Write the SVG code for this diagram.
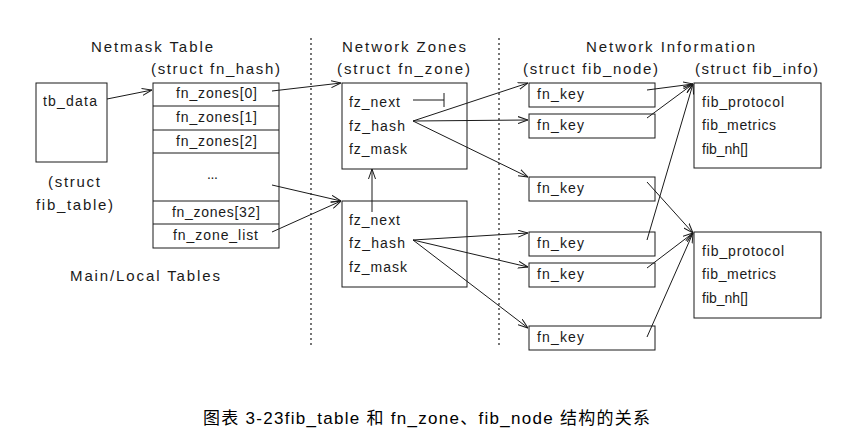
<svg xmlns="http://www.w3.org/2000/svg" width="843" height="439" viewBox="0 0 843 439">
<style>
  text { font-family: "Liberation Sans", Arial, sans-serif; font-size: 14px; fill: #1a1a1a; }
  .hd { font-size: 15px; }
  .cap { font-family: "Liberation Sans", "Noto Sans CJK SC", sans-serif; font-size: 17px; fill: #000; }
  .box { fill: #fff; stroke: #1a1a1a; stroke-width: 1; }
  .ln { fill: none; stroke: #1a1a1a; stroke-width: 1; }
  .arr { fill: none; stroke: #1a1a1a; stroke-width: 1; marker-end: url(#ah); }
  .dot { fill: none; stroke: #1a1a1a; stroke-width: 1.2; stroke-dasharray: 2 3; }
</style>
<defs>
  <marker id="ah" viewBox="0 0 10 8" refX="10" refY="4" markerWidth="10" markerHeight="8" markerUnits="userSpaceOnUse" orient="auto">
    <path d="M0,0.5 L10,4 L0,7.5" fill="none" stroke="#1a1a1a" stroke-width="1"/>
  </marker>
</defs>
<rect width="843" height="439" fill="#fff"/>

<g id="separators">
  <line class="dot" x1="311" y1="38" x2="311" y2="348"/>
  <line class="dot" x1="499" y1="38" x2="499" y2="348"/>
</g>

<g id="headers">
  <text class="hd" x="91" y="52" textLength="122" lengthAdjust="spacing">Netmask Table</text>
  <text class="hd" x="151" y="74" textLength="129" lengthAdjust="spacing">(struct fn_hash)</text>
  <text class="hd" x="342" y="52" textLength="124" lengthAdjust="spacing">Network Zones</text>
  <text class="hd" x="337" y="74" textLength="133" lengthAdjust="spacing">(struct fn_zone)</text>
  <text class="hd" x="586" y="52" textLength="169" lengthAdjust="spacing">Network Information</text>
  <text class="hd" x="523" y="74" textLength="135" lengthAdjust="spacing">(struct fib_node)</text>
  <text class="hd" x="695" y="74" textLength="123" lengthAdjust="spacing">(struct fib_info)</text>
  <text class="hd" x="70" y="281" textLength="150" lengthAdjust="spacing">Main/Local Tables</text>
</g>

<g id="fib_table">
  <rect class="box" x="36" y="83" width="71" height="79"/>
  <text x="43" y="106" textLength="54" lengthAdjust="spacing">tb_data</text>
  <text class="hd" x="48" y="187" textLength="52" lengthAdjust="spacing">(struct</text>
  <text class="hd" x="36" y="210" textLength="77" lengthAdjust="spacing">fib_table)</text>
</g>

<g id="fn_hash">
  <rect class="box" x="153" y="83" width="126" height="165"/>
  <line class="ln" x1="153" y1="106" x2="279" y2="106"/>
  <line class="ln" x1="153" y1="130" x2="279" y2="130"/>
  <line class="ln" x1="153" y1="153" x2="279" y2="153"/>
  <line class="ln" x1="153" y1="201" x2="279" y2="201"/>
  <line class="ln" x1="153" y1="224" x2="279" y2="224"/>
  <text x="176" y="98" textLength="81" lengthAdjust="spacing">fn_zones[0]</text>
  <text x="176" y="122" textLength="81" lengthAdjust="spacing">fn_zones[1]</text>
  <text x="176" y="146" textLength="81" lengthAdjust="spacing">fn_zones[2]</text>
  <text x="207" y="179" textLength="11" lengthAdjust="spacing">...</text>
  <text x="172" y="217" textLength="88" lengthAdjust="spacing">fn_zones[32]</text>
  <text x="173" y="240" textLength="85" lengthAdjust="spacing">fn_zone_list</text>
</g>

<g id="zone1">
  <rect class="box" x="342" y="83" width="125" height="86"/>
  <text x="349" y="107" textLength="51" lengthAdjust="spacing">fz_next</text>
  <text x="349" y="131" textLength="56" lengthAdjust="spacing">fz_hash</text>
  <text x="349" y="154" textLength="58" lengthAdjust="spacing">fz_mask</text>
</g>

<g id="zone2">
  <rect class="box" x="342" y="201" width="125" height="86"/>
  <text x="349" y="225" textLength="51" lengthAdjust="spacing">fz_next</text>
  <text x="349" y="248" textLength="56" lengthAdjust="spacing">fz_hash</text>
  <text x="349" y="272" textLength="58" lengthAdjust="spacing">fz_mask</text>
</g>

<g id="node1">
  <rect class="box" x="529" y="83" width="126" height="24"/>
  <text x="537" y="99" textLength="47" lengthAdjust="spacing">fn_key</text>
</g>
<g id="node2">
  <rect class="box" x="529" y="114" width="126" height="24"/>
  <text x="537" y="130" textLength="47" lengthAdjust="spacing">fn_key</text>
</g>
<g id="node3">
  <rect class="box" x="529" y="177" width="126" height="24"/>
  <text x="537" y="193" textLength="47" lengthAdjust="spacing">fn_key</text>
</g>
<g id="node4">
  <rect class="box" x="529" y="232" width="126" height="24"/>
  <text x="537" y="248" textLength="47" lengthAdjust="spacing">fn_key</text>
</g>
<g id="node5">
  <rect class="box" x="529" y="263" width="126" height="24"/>
  <text x="537" y="279" textLength="47" lengthAdjust="spacing">fn_key</text>
</g>
<g id="node6">
  <rect class="box" x="529" y="326" width="126" height="24"/>
  <text x="537" y="342" textLength="47" lengthAdjust="spacing">fn_key</text>
</g>

<g id="info1">
  <rect class="box" x="694" y="83" width="127" height="85"/>
  <text x="702" y="107" textLength="82" lengthAdjust="spacing">fib_protocol</text>
  <text x="702" y="130" textLength="74" lengthAdjust="spacing">fib_metrics</text>
  <text x="702" y="154">fib_nh[]</text>
</g>
<g id="info2">
  <rect class="box" x="694" y="232" width="127" height="86"/>
  <text x="702" y="256" textLength="82" lengthAdjust="spacing">fib_protocol</text>
  <text x="702" y="279" textLength="74" lengthAdjust="spacing">fib_metrics</text>
  <text x="702" y="303">fib_nh[]</text>
</g>

<g id="connectors">
  <line class="arr" x1="107" y1="99" x2="152" y2="90"/>
  <line class="arr" x1="272" y1="91" x2="341" y2="83"/>
  <line class="arr" x1="272" y1="185" x2="341" y2="201"/>
  <line class="arr" x1="272" y1="232" x2="341" y2="201"/>
  <line class="arr" x1="372" y1="212" x2="372" y2="169"/>
  <line class="ln" x1="413" y1="100" x2="444" y2="100"/>
  <line class="ln" x1="444" y1="93" x2="444" y2="107"/>
  <line class="arr" x1="413" y1="121" x2="528" y2="83"/>
  <line class="arr" x1="413" y1="121" x2="528" y2="120"/>
  <line class="arr" x1="413" y1="121" x2="528" y2="177"/>
  <line class="arr" x1="413" y1="240" x2="528" y2="233"/>
  <line class="arr" x1="413" y1="240" x2="528" y2="267"/>
  <line class="arr" x1="413" y1="240" x2="528" y2="328"/>
  <line class="arr" x1="647" y1="90" x2="693" y2="84"/>
  <line class="arr" x1="647" y1="118" x2="693" y2="84"/>
  <line class="arr" x1="647" y1="240" x2="693" y2="84"/>
  <line class="arr" x1="647" y1="182" x2="693" y2="233"/>
  <line class="arr" x1="647" y1="268" x2="693" y2="233"/>
  <line class="arr" x1="647" y1="337" x2="693" y2="233"/>
</g>

<g id="caption">
  <text class="cap" x="203" y="424" textLength="447" lengthAdjust="spacing">图表 3-23fib_table 和 fn_zone、fib_node 结构的关系</text>
</g>
</svg>
